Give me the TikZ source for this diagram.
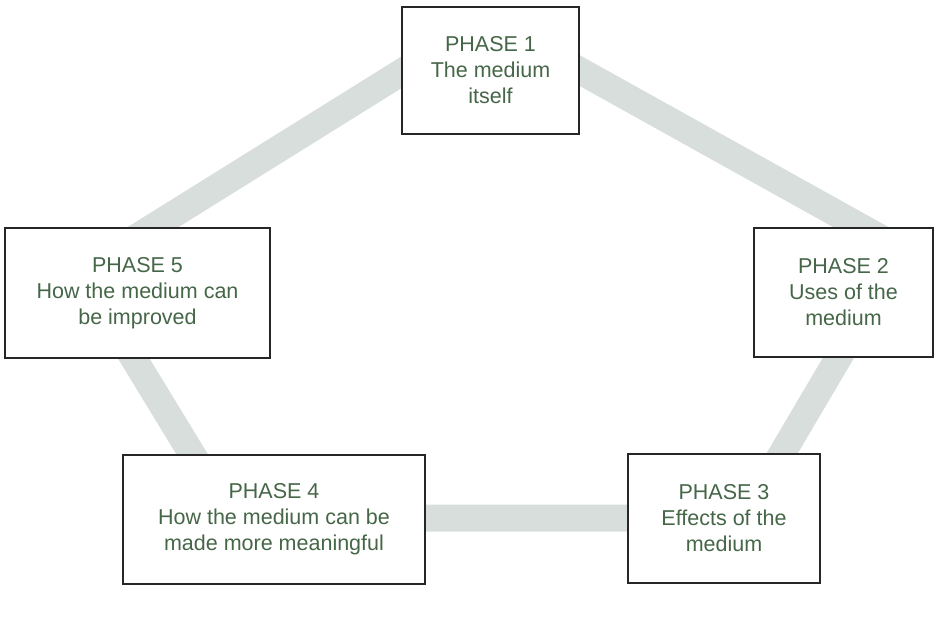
\documentclass[tikz,border=0pt]{standalone}
\usepackage{fontspec}
\setmainfont{Liberation Sans}
\definecolor{bandgray}{RGB}{216,222,219}
\definecolor{phasegreen}{RGB}{70,102,72}

\begin{document}
\begin{tikzpicture}[
     x=1pt,y=-1pt,
     phase/.style={rectangle,draw=black!85,line width=1.6pt,fill=white,
       align=center,text=phasegreen,font=\fontsize{21.5}{26}\selectfont},
     band/.style={draw=bandgray,line width=27pt,line join=bevel}
   ]
   \path[use as bounding box] (0,0) rectangle (936,617);
   % Corners of the cycle.
   \coordinate (v1) at (487,19);
   \coordinate (v2) at (902,250);
   \coordinate (v3) at (744,518);
   \coordinate (v4) at (231,518);
   \coordinate (v5) at (81,272);
   \draw[band] (v1) -- (v2) -- (v3) -- (v4) -- (v5) -- cycle;
   % Phases.
   \node[phase,minimum width=177,minimum height=127] (ph1) at (490.5,70.5)
     {PHASE 1\\The medium\\itself};
   \node[phase,minimum width=179,minimum height=129] (ph2) at (843.5,292.5)
     {PHASE 2\\Uses of the\\medium};
   \node[phase,minimum width=192,minimum height=129] (ph3) at (724,518.5)
     {PHASE 3\\Effects of the\\medium};
   \node[phase,minimum width=302,minimum height=129] (ph4) at (274,519.5)
     {PHASE 4\\How the medium can be\\made more meaningful};
   \node[phase,minimum width=265,minimum height=130] (ph5) at (137.5,293)
     {PHASE 5\\How the medium can\\be improved};
 \end{tikzpicture}
\end{document}
